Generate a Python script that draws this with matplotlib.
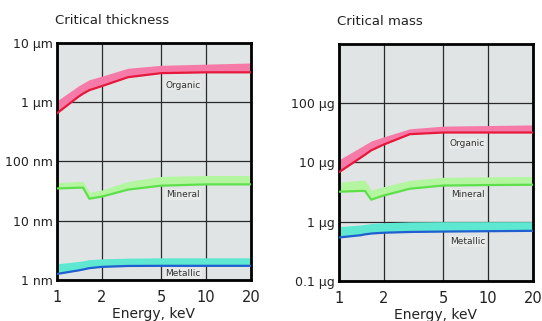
import matplotlib
matplotlib.use("Agg")
import matplotlib.pyplot as plt
from matplotlib.ticker import FixedLocator, NullLocator

plt.rcParams['font.family'] = ['DejaVu Sans']

energy_keV = [1, 1.4, 1.5, 1.65, 2, 3, 5, 10, 20]

# Critical thickness (nm)
thick_organic_line = [650, 1250, 1400, 1600, 1870, 2650, 3100, 3200, 3200]
thick_organic_top = [1050, 1900, 2100, 2400, 2750, 3750, 4200, 4400, 4600]
thick_mineral_line = [35, 36, 36, 23.5, 25.5, 33.5, 39, 41, 41]
thick_mineral_top = [44, 46, 46, 30, 33, 46, 56, 58, 58]
thick_metallic_line = [1.26, 1.45, 1.5, 1.58, 1.66, 1.72, 1.73, 1.73, 1.73]
thick_metallic_top = [1.87, 2.05, 2.1, 2.2, 2.27, 2.33, 2.36, 2.36, 2.36]

# Critical mass (ug)
mass_organic_line = [6.8, 12, 13.5, 16, 20, 30, 32, 32, 32]
mass_organic_top = [11, 18, 20, 23, 27, 37, 41, 42, 43]
mass_mineral_line = [3.2, 3.3, 3.3, 2.35, 2.76, 3.6, 4.07, 4.15, 4.2]
mass_mineral_top = [4.6, 5.0, 5.0, 3.4, 3.9, 5.0, 5.6, 5.7, 5.8]
mass_metallic_line = [0.54, 0.59, 0.61, 0.63, 0.65, 0.67, 0.68, 0.69, 0.70]
mass_metallic_top = [0.82, 0.88, 0.9, 0.93, 0.96, 0.99, 1.0, 1.0, 1.0]

x_ticks = [1, 2, 5, 10, 20]
x_ticklabels = ["1", "2", "5", "10", "20"]
thick_ticks = [1, 10, 100, 1000, 10000]
thick_ticklabels = ["1 nm", "10 nm", "100 nm", "1 \u03bcm", "10 \u03bcm"]
mass_ticks = [0.1, 1, 10, 100]
mass_ticklabels = ["0.1 \u03bcg", "1 \u03bcg", "10 \u03bcg", "100 \u03bcg"]

series_names = ["Organic", "Mineral", "Metallic"]
band_colors = ["#f57aa8", "#b4f5a0", "#5ee8d2"]
line_colors = ["#e8183c", "#5ee04a", "#1f5fd0"]

fig = plt.figure(figsize=(5.42, 3.21), dpi=100)
fig.patch.set_facecolor("white")

ax1 = fig.add_axes([0.105, 0.128, 0.358, 0.738])
ax2 = fig.add_axes([0.625, 0.125, 0.358, 0.738])


def setup(ax, ylim, yticks, ylabels, title):
    ax.set_xscale("log")
    ax.set_yscale("log")
    ax.set_xlim(1, 20)
    ax.set_ylim(*ylim)
    ax.set_facecolor("#e0e4e5")
    ax.xaxis.set_major_locator(FixedLocator(x_ticks))
    ax.xaxis.set_minor_locator(NullLocator())
    ax.set_xticklabels(x_ticklabels, fontsize=10.5, color="#222222")
    ax.yaxis.set_major_locator(FixedLocator(yticks))
    ax.yaxis.set_minor_locator(NullLocator())
    ax.set_yticklabels(ylabels, fontsize=9, color="#222222")
    ax.tick_params(length=0, pad=3)
    ax.tick_params(axis="x", pad=7)
    ax.grid(True, color="#2a2a2a", linewidth=0.9)
    ax.set_axisbelow(True)
    for s in ax.spines.values():
        s.set_linewidth(2.0)
        s.set_color("black")
    ax.set_xlabel("Energy, keV", fontsize=10, color="#222222", labelpad=2)
    ax.set_title(title, loc="left", fontsize=9.5, color="#222222", pad=14, x=-0.01)


setup(ax1, (1, 10000), thick_ticks, thick_ticklabels, "Critical thickness")
setup(ax2, (0.1, 1000), mass_ticks, mass_ticklabels, "Critical mass")

thick_data = [(thick_organic_line, thick_organic_top),
              (thick_mineral_line, thick_mineral_top),
              (thick_metallic_line, thick_metallic_top)]
mass_data = [(mass_organic_line, mass_organic_top),
             (mass_mineral_line, mass_mineral_top),
             (mass_metallic_line, mass_metallic_top)]

thick_label_pos = [(7.0, 1950), (7.0, 28), (7.0, 1.28)]
mass_label_pos = [(7.3, 21), (7.3, 2.85), (7.3, 0.46)]

for ax, data, lpos in [(ax1, thick_data, thick_label_pos), (ax2, mass_data, mass_label_pos)]:
    for (line, top), bc, lc, name, (lx, ly) in zip(data, band_colors, line_colors, series_names, lpos):
        ax.fill_between(energy_keV, line, top, color=bc, linewidth=0, zorder=2)
        ax.plot(energy_keV, line, color=lc, linewidth=1.6, zorder=3)
        ax.text(lx, ly, name, fontsize=6.5, color="#333333", ha="center", va="center",
                zorder=4, bbox=dict(boxstyle="square,pad=0.1", fc="#e8eaea", ec="none"))

fig.savefig("out.png", dpi=100)
